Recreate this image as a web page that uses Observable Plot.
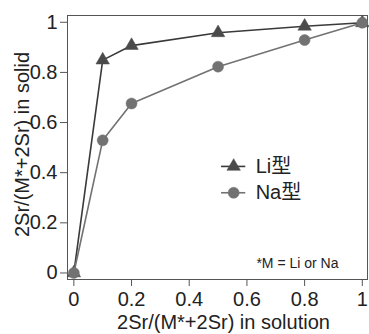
<!DOCTYPE html>
<html>
<head>
<meta charset="utf-8">
<script src="https://cdn.jsdelivr.net/npm/d3@7"></script>
<script src="https://cdn.jsdelivr.net/npm/@observablehq/plot@0.6"></script>
<style>
  html, body { margin: 0; padding: 0; background: #fff; }
  #chart svg { display: block; }
</style>
</head>
<body>
<div id="chart"></div>
<script>
const xValues = [0, 0.1, 0.2, 0.5, 0.8, 1];
const liValues = [0, 0.849, 0.907, 0.958, 0.984, 0.998];
const naValues = [0, 0.529, 0.676, 0.823, 0.929, 0.998];
const xTicks = [0, 0.2, 0.4, 0.6, 0.8, 1];
const yTicks = [0, 0.2, 0.4, 0.6, 0.8, 1];
const seriesNames = ["Li型", "Na型"];
const xLabel = "2Sr/(M*+2Sr) in solution";
const yLabel = "2Sr/(M*+2Sr) in solid";
const note = "*M = Li or Na";

const li = xValues.map((x, i) => ({x, y: liValues[i]}));
const na = xValues.map((x, i) => ({x, y: naValues[i]}));

const liColor = "#3a3a3a", liMarker = "#4a4a4a";
const naColor = "#727272";
const font = "'Liberation Sans', Arial, 'Noto Sans CJK SC', sans-serif";

// legend anchor in data units
const legendX = 0.554;
const legendLi = [{name: seriesNames[0], x: legendX, y: 0.425}];
const legendNa = [{name: seriesNames[1], x: legendX, y: 0.32}];
const legend = [...legendLi, ...legendNa];

const chart = Plot.plot({
  width: 369,
  height: 334,
  marginLeft: 67,
  marginRight: 2,
  marginTop: 15,
  marginBottom: 55,
  style: {fontFamily: font, fontSize: "20px", color: "#222", background: "#fff"},
  x: {domain: [-0.022, 1.018]},
  y: {domain: [-0.026, 1.027]},
  marks: [
    Plot.frame({stroke: "#555", strokeWidth: 1}),
    Plot.axisX({ticks: xTicks, tickSize: 7, tickPadding: 5, label: null, stroke: "#555", fontSize: 20, tickFormat: d => String(d)}),
    Plot.axisY({ticks: yTicks, tickSize: 7, tickPadding: 3, label: null, stroke: "#555", fontSize: 20, tickFormat: d => String(d)}),
    Plot.line(li, {x: "x", y: "y", stroke: liColor, strokeWidth: 1.6}),
    Plot.dot(li, {x: "x", y: "y", symbol: "triangle", r: 5, fill: liMarker, stroke: liMarker, strokeWidth: 0.5}),
    Plot.line(na, {x: "x", y: "y", stroke: naColor, strokeWidth: 1.6}),
    Plot.dot(na, {x: "x", y: "y", symbol: "circle", r: 5.5, fill: naColor, stroke: naColor, strokeWidth: 0.5}),
    // legend
    Plot.ruleY(legendLi, {x1: d => d.x - 0.042, x2: d => d.x + 0.042, y: "y", stroke: liColor, strokeWidth: 1.6}),
    Plot.ruleY(legendNa, {x1: d => d.x - 0.042, x2: d => d.x + 0.042, y: "y", stroke: naColor, strokeWidth: 1.6}),
    Plot.dot(legendLi, {x: "x", y: "y", symbol: "triangle", r: 5, fill: liMarker, stroke: liMarker, strokeWidth: 0.5}),
    Plot.dot(legendNa, {x: "x", y: "y", symbol: "circle", r: 5.5, fill: naColor, stroke: naColor, strokeWidth: 0.5}),
    Plot.text(legend, {x: "x", y: "y", text: "name", dx: 22, textAnchor: "start", fontSize: 20, fill: "#222"}),
    // note
    Plot.text([note], {frameAnchor: "bottom-right", dx: -29, dy: -16, fontSize: 14, fill: "#222", textAnchor: "end", lineAnchor: "middle"}),
    // axis labels
    Plot.text([xLabel], {frameAnchor: "bottom", dx: 6, dy: 43.5, fontSize: 20, fill: "#222", textAnchor: "middle", lineAnchor: "middle"}),
    Plot.text([yLabel], {frameAnchor: "left", dx: -45, dy: -3, rotate: -90, fontSize: 20, fill: "#222", textAnchor: "middle", lineAnchor: "middle"})
  ]
});
document.getElementById("chart").appendChild(chart);
</script>
</body>
</html>
